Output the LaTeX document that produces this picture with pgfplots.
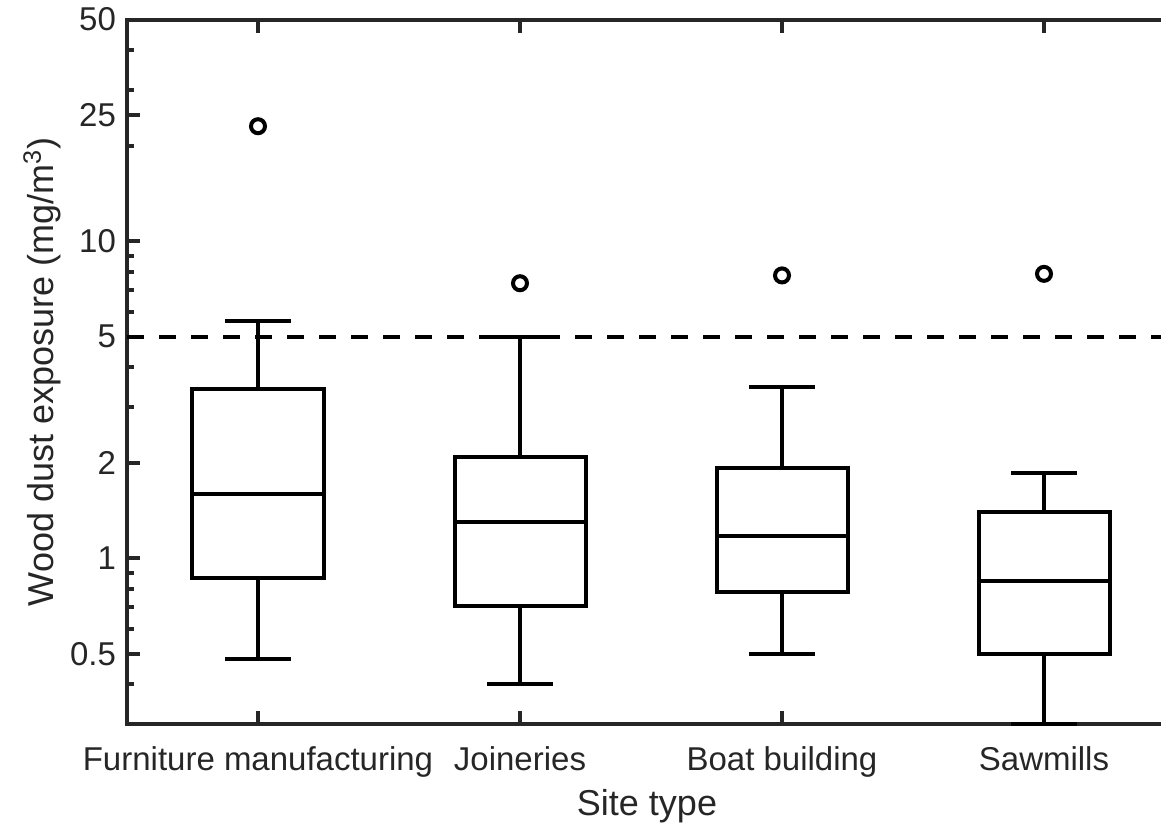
\documentclass[border=0pt]{standalone}
\usepackage{fontspec}
\setmainfont{Liberation Sans}
\usepackage{pgfplots}
\pgfplotsset{compat=1.18}
\usepgfplotslibrary{statistics}
\definecolor{axgray}{RGB}{38,38,38}
\begin{document}
\begin{tikzpicture}
\path[use as bounding box] (-63.5pt,-51pt) rectangle (517pt,362pt);
\begin{axis}[
  at={(0pt,0pt)}, anchor=south west,
  scale only axis,
  width=524pt, height=352.2pt,
  xmin=0.5, xmax=4.5,
  ymode=log, ymin=0.3, ymax=50,
  xtick={1,2,3,4},
  xticklabels={Furniture manufacturing, Joineries, Boat building, Sawmills},
  ytick={0.5,1,2,5,10,25,50},
  yticklabels={0.5,1,2,5,10,25,50},
  minor ytick={0.3,0.4,0.6,0.7,0.8,0.9,3,4,6,7,8,9,20,30,40},
  tick align=inside,
  major tick length=6.5pt, minor tick length=3.5pt,
  tick style={axgray, line width=2pt},
  axis line style={axgray, line width=2pt},
  tick label style={font=\fontsize{16.5}{19}\selectfont, text=axgray},
  xticklabel style={anchor=base, yshift=-23pt},
  yticklabel style={anchor=east, xshift=-2pt},
  label style={font=\fontsize{18}{21}\selectfont, text=axgray},
  xlabel={Site type},
  ylabel={Wood dust exposure (mg/m\textsuperscript{3})},
  xlabel style={at={(axis description cs:0.4962,-0.1292)}, anchor=base},
  ylabel style={at={(axis description cs:-0.0701,0.5)}, anchor=base},
  clip=false,
  boxplot/draw direction=y,
  boxplot/box extend=0.5,
  boxplot/whisker extend=0.25,
]
\addplot[black, line width=2pt, dash pattern=on 8.5pt off 7.5pt] coordinates {(0.5,5) (4.5,5)};

\addplot[black, line width=2pt, solid, boxplot prepared={draw position=1,
  lower whisker=0.48, lower quartile=0.865, median=1.592,
  upper quartile=3.413, upper whisker=5.59}] coordinates {};
\addplot[black, line width=2pt, solid, boxplot prepared={draw position=2,
  lower whisker=0.40, lower quartile=0.706, median=1.299,
  upper quartile=2.083, upper whisker=5.0}] coordinates {};
\addplot[black, line width=2pt, solid, boxplot prepared={draw position=3,
  lower whisker=0.50, lower quartile=0.785, median=1.179,
  upper quartile=1.932, upper whisker=3.48}] coordinates {};
\addplot[black, line width=2pt, solid, boxplot prepared={draw position=4,
  lower whisker=0.30, lower quartile=0.50, median=0.848,
  upper quartile=1.397, upper whisker=1.863}] coordinates {};

\addplot[only marks, mark=o, mark size=3.5pt, black, line width=2pt] coordinates {(1,23.05) (2,7.37) (3,7.80) (4,7.89)};
\end{axis}
\end{tikzpicture}
\end{document}
